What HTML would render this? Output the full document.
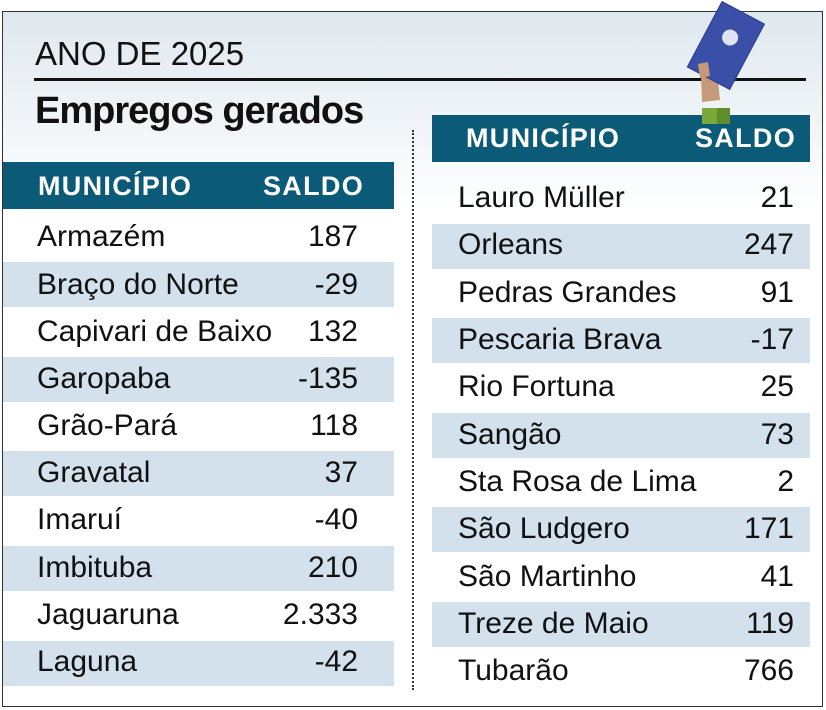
<!DOCTYPE html>
<html><head><meta charset="utf-8"><style>
body{margin:0;width:826px;height:710px;background:#fff;position:relative;overflow:hidden;font-family:"Liberation Sans",sans-serif;}
.box{position:absolute;left:2px;top:11px;width:819px;height:694px;border:1.5px solid #333;background:linear-gradient(#dfe8ef 0px,#fff 200px,#fff 100%);}
.t{position:absolute;white-space:nowrap;color:#111;}
.hdr{position:absolute;background:#0b5a77;}
.row{position:absolute;background:#d2e1ec;}
.h{position:absolute;color:#fff;font-weight:bold;font-size:27px;letter-spacing:1.3px;}
.n{position:absolute;font-size:30px;color:#111;white-space:nowrap;}
.v{position:absolute;font-size:30px;color:#111;text-align:right;width:120px;}
</style></head><body>
<div class="box"></div>
<div class="t" style="left:35px;top:35px;font-size:33px;">ANO DE 2025</div>
<div style="position:absolute;left:34px;top:78px;width:772px;height:3px;background:#111"></div>
<div class="t" style="left:35px;top:90px;font-size:38px;font-weight:bold;letter-spacing:-1px;">Empregos gerados</div>
<div style="position:absolute;left:412px;top:130px;height:560px;border-left:2px dotted #333"></div>

<div class="hdr" style="left:3px;top:162px;width:391px;height:47px"></div>
<div class="h" style="left:38px;top:171px">MUNICÍPIO</div>
<div class="h" style="left:263px;top:171px">SALDO</div>

<div class="hdr" style="left:432px;top:115px;width:378px;height:47px"></div>
<div class="h" style="left:466px;top:123px">MUNICÍPIO</div>
<div class="h" style="left:695px;top:123px">SALDO</div>

<svg style="position:absolute;left:680px;top:0" width="100" height="130">
<rect x="22" y="108" width="28" height="16" fill="#7aa83a"/><rect x="37" y="108" width="13" height="16" fill="#5f8d2c"/>
<path d="M20 50 L32 48 L38 80 L40 100 L22 102 Z" fill="#c49a78"/>
<g transform="rotate(28 45 45)"><rect x="22" y="8" width="48" height="74" fill="#3a4fa8" stroke="#2a3a8a"/><circle cx="46" cy="36" r="8" fill="#dfe4f3"/></g>
<path d="M18 64 l10 -2 l2 14 l-10 2z" fill="#c49a78"/>
</svg>

<div class="row" style="left:3px;top:262px;width:391px;height:45px"></div>
<div class="row" style="left:3px;top:357px;width:391px;height:45px"></div>
<div class="row" style="left:3px;top:451px;width:391px;height:45px"></div>
<div class="row" style="left:3px;top:546px;width:391px;height:45px"></div>
<div class="row" style="left:3px;top:641px;width:391px;height:45px"></div>
<div class="row" style="left:432px;top:224px;width:378px;height:45px"></div>
<div class="row" style="left:432px;top:318px;width:378px;height:45px"></div>
<div class="row" style="left:432px;top:413px;width:378px;height:45px"></div>
<div class="row" style="left:432px;top:507px;width:378px;height:45px"></div>
<div class="row" style="left:432px;top:602px;width:378px;height:45px"></div>

<div class="n" style="left:37px;top:220px">Armazém</div><div class="v" style="left:238px;top:220px">187</div>
<div class="n" style="left:37px;top:268px">Braço do Norte</div><div class="v" style="left:238px;top:268px">-29</div>
<div class="n" style="left:37px;top:315px">Capivari de Baixo</div><div class="v" style="left:238px;top:315px">132</div>
<div class="n" style="left:37px;top:362px">Garopaba</div><div class="v" style="left:238px;top:362px">-135</div>
<div class="n" style="left:37px;top:409px">Grão-Pará</div><div class="v" style="left:238px;top:409px">118</div>
<div class="n" style="left:37px;top:456px">Gravatal</div><div class="v" style="left:238px;top:456px">37</div>
<div class="n" style="left:37px;top:503px">Imaruí</div><div class="v" style="left:238px;top:503px">-40</div>
<div class="n" style="left:37px;top:551px">Imbituba</div><div class="v" style="left:238px;top:551px">210</div>
<div class="n" style="left:37px;top:598px">Jaguaruna</div><div class="v" style="left:238px;top:598px">2.333</div>
<div class="n" style="left:37px;top:645px">Laguna</div><div class="v" style="left:238px;top:645px">-42</div>

<div class="n" style="left:458px;top:181px">Lauro Müller</div><div class="v" style="left:674px;top:181px">21</div>
<div class="n" style="left:458px;top:228px">Orleans</div><div class="v" style="left:674px;top:228px">247</div>
<div class="n" style="left:458px;top:276px">Pedras Grandes</div><div class="v" style="left:674px;top:276px">91</div>
<div class="n" style="left:458px;top:323px">Pescaria Brava</div><div class="v" style="left:674px;top:323px">-17</div>
<div class="n" style="left:458px;top:370px">Rio Fortuna</div><div class="v" style="left:674px;top:370px">25</div>
<div class="n" style="left:458px;top:418px">Sangão</div><div class="v" style="left:674px;top:418px">73</div>
<div class="n" style="left:458px;top:465px">Sta Rosa de Lima</div><div class="v" style="left:674px;top:465px">2</div>
<div class="n" style="left:458px;top:512px">São Ludgero</div><div class="v" style="left:674px;top:512px">171</div>
<div class="n" style="left:458px;top:560px">São Martinho</div><div class="v" style="left:674px;top:560px">41</div>
<div class="n" style="left:458px;top:607px">Treze de Maio</div><div class="v" style="left:674px;top:607px">119</div>
<div class="n" style="left:458px;top:654px">Tubarão</div><div class="v" style="left:674px;top:654px">766</div>
</body></html>
